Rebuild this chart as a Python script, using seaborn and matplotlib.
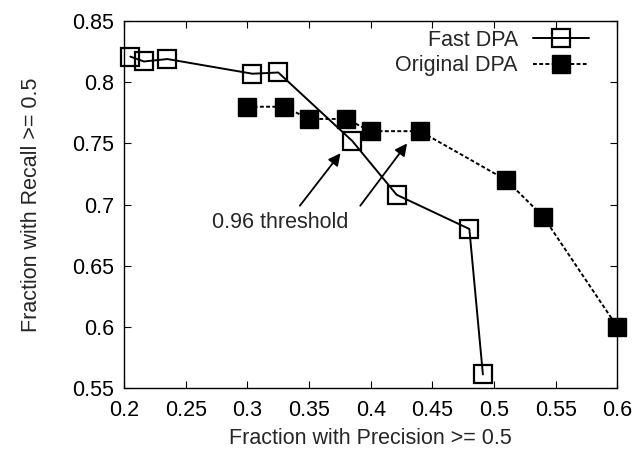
import matplotlib
matplotlib.use("Agg")
import matplotlib.pyplot as plt
import seaborn as sns
import pandas as pd

fast_x = [0.205, 0.216, 0.235, 0.304, 0.325, 0.385, 0.421, 0.480, 0.491]
fast_y = [0.821, 0.817, 0.819, 0.807, 0.808, 0.752, 0.708, 0.680, 0.561]
orig_x = [0.300, 0.330, 0.350, 0.380, 0.400, 0.440, 0.510, 0.540, 0.600]
orig_y = [0.780, 0.780, 0.770, 0.770, 0.760, 0.760, 0.720, 0.690, 0.600]
x_ticks = [0.2, 0.25, 0.3, 0.35, 0.4, 0.45, 0.5, 0.55, 0.6]
y_ticks = [0.55, 0.6, 0.65, 0.7, 0.75, 0.8, 0.85]

sns.set_style("ticks")
plt.rcParams['font.family'] = ['Liberation Sans', 'DejaVu Sans']
FS = 15.5

fig, ax = plt.subplots(figsize=(6.37, 4.5), dpi=100)
fig.subplots_adjust(left=0.195, right=0.969, top=0.953, bottom=0.138)

df_fast = pd.DataFrame({"x": fast_x, "y": fast_y})
df_orig = pd.DataFrame({"x": orig_x, "y": orig_y})

sns.lineplot(data=df_fast, x="x", y="y", ax=ax, sort=False, estimator=None,
             color="black", linewidth=1.4, linestyle="-", marker="s",
             markersize=12.5, markerfacecolor="none", markeredgecolor="black",
             markeredgewidth=1.6, label="Fast DPA", clip_on=False, zorder=3)
sns.lineplot(data=df_orig, x="x", y="y", ax=ax, sort=False, estimator=None,
             color="black", linewidth=1.4, linestyle=(0, (2, 1.2)), marker="s",
             markersize=12.5, markerfacecolor="black", markeredgecolor="black",
             markeredgewidth=1.0, label="Original DPA", clip_on=False, zorder=3)

ax.set_xlim(0.2, 0.6)
ax.set_ylim(0.55, 0.85)
ax.set_xticks(x_ticks)
ax.set_yticks(y_ticks)
ax.set_xticklabels([f"{t:g}" for t in x_ticks])
ax.set_yticklabels([f"{t:g}" for t in y_ticks])
ax.tick_params(direction="in", top=True, right=True, length=5, width=0.8,
               labelsize=FS, colors="black")
ax.tick_params(axis="x", pad=9)
ax.tick_params(axis="y", pad=7)
for s in ax.spines.values():
    s.set_linewidth(1.0)
    s.set_color("black")

ax.set_xlabel("Fraction with Precision >= 0.5", fontsize=FS, labelpad=5)
ax.set_ylabel("Fraction with Recall >= 0.5", fontsize=FS, labelpad=22)

ax.annotate("", xy=(0.3755, 0.742), xytext=(0.3425, 0.699),
            arrowprops=dict(arrowstyle="-|>", color="black", lw=1.3,
                            mutation_scale=18, shrinkA=0, shrinkB=0))
ax.annotate("", xy=(0.4295, 0.750), xytext=(0.3915, 0.699),
            arrowprops=dict(arrowstyle="-|>", color="black", lw=1.3,
                            mutation_scale=18, shrinkA=0, shrinkB=0))
ax.text(0.3266, 0.6855, "0.96 threshold", fontsize=FS, ha="center", va="center")

leg = ax.legend(loc="upper right", bbox_to_anchor=(0.982, 1.03), frameon=False,
                markerfirst=False, fontsize=FS, handlelength=2.6,
                borderaxespad=0.5, labelspacing=0.22, handletextpad=0.7)
for t in leg.get_texts():
    t.set_ha("right")

fig.savefig("out.png", dpi=100)
